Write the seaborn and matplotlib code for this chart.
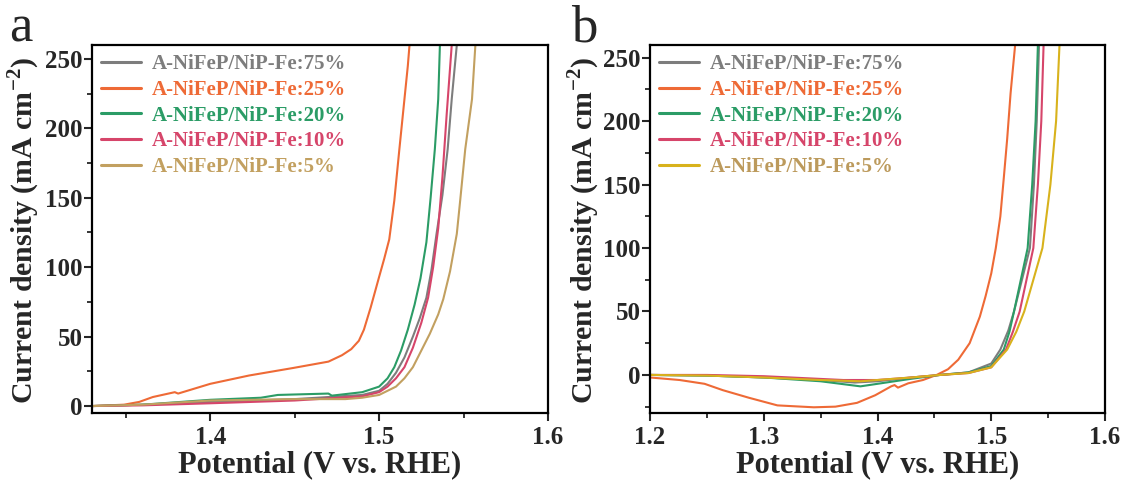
import numpy as np
import pandas as pd
import matplotlib
matplotlib.use("Agg")
import matplotlib.pyplot as plt
import seaborn as sns
from matplotlib.ticker import MultipleLocator

sns.set_theme(style="ticks")
plt.rcParams['font.family'] = ['Liberation Serif', 'DejaVu Serif']
plt.rcParams['mathtext.fontset'] = 'custom'
plt.rcParams['mathtext.rm'] = 'Liberation Serif:bold'
plt.rcParams['mathtext.bf'] = 'Liberation Serif:bold'

labels = ["A-NiFeP/NiP-Fe:75%", "A-NiFeP/NiP-Fe:25%", "A-NiFeP/NiP-Fe:20%",
          "A-NiFeP/NiP-Fe:10%", "A-NiFeP/NiP-Fe:5%"]
colors_a = ["#7d7d7d", "#ee6a36", "#2b9c66", "#d6456a", "#c2a060"]
colors_b = ["#7d7d7d", "#ee6a36", "#2b9c66", "#d6456a", "#d8b21c"]
text_b = ["#7d7d7d", "#ee6a36", "#2b9c66", "#d6456a", "#bc9a5c"]

# ---- panel a (V vs RHE, mA cm-2)
a75_v = [1.33, 1.36, 1.40, 1.45, 1.49, 1.50, 1.505, 1.51, 1.515, 1.52, 1.524, 1.528, 1.531, 1.534, 1.5375, 1.5406, 1.543, 1.546]
a75_j = [0.0, 1.0, 3.0, 5.0, 8.0, 11.0, 16.0, 24.0, 35.0, 50.0, 63.0, 78.0, 98.0, 124.0, 152.0, 185.0, 221.0, 260.0]
a25_v = [1.33, 1.349, 1.358, 1.366, 1.379, 1.381, 1.40, 1.423, 1.449, 1.47, 1.478, 1.4835, 1.488, 1.491, 1.495, 1.50, 1.503, 1.506, 1.509, 1.512, 1.515, 1.517, 1.518]
a25_j = [0.0, 1.0, 3.0, 6.5, 10.0, 9.0, 16.0, 22.0, 27.4, 32.0, 36.6, 41.0, 47.0, 55.0, 71.0, 93.0, 106.0, 120.0, 148.0, 185.0, 221.0, 245.0, 260.0]
a20_v = [1.33, 1.36, 1.40, 1.43, 1.44, 1.47, 1.472, 1.49, 1.50, 1.505, 1.509, 1.513, 1.517, 1.521, 1.5245, 1.528, 1.5305, 1.533, 1.535, 1.536]
a20_j = [0.0, 1.0, 4.5, 6.0, 8.0, 9.0, 7.5, 10.0, 14.0, 20.0, 28.0, 40.0, 55.0, 73.0, 92.0, 118.0, 150.0, 185.0, 221.0, 260.0]
a10_v = [1.33, 1.36, 1.40, 1.45, 1.49, 1.50, 1.505, 1.51, 1.515, 1.52, 1.525, 1.529, 1.532, 1.535, 1.5375, 1.540, 1.543]
a10_j = [0.0, 0.5, 2.0, 4.0, 7.0, 10.0, 14.0, 20.0, 28.0, 42.0, 60.0, 78.0, 100.0, 128.0, 165.0, 210.0, 260.0]
a5_v = [1.33, 1.36, 1.40, 1.45, 1.48, 1.49, 1.50, 1.51, 1.515, 1.52, 1.525, 1.53, 1.535, 1.538, 1.542, 1.546, 1.548, 1.551, 1.555, 1.557]
a5_j = [0.0, 1.0, 4.0, 5.0, 5.0, 6.0, 8.0, 14.0, 20.0, 28.0, 40.0, 52.0, 66.0, 77.0, 97.0, 124.0, 148.0, 185.0, 221.0, 260.0]

# ---- panel b
b75_v = [1.20, 1.25, 1.30, 1.35, 1.38, 1.40, 1.43, 1.455, 1.48, 1.50, 1.508, 1.515, 1.52, 1.527, 1.534, 1.5375, 1.540, 1.542]
b75_j = [0.0, -0.5, -2.0, -4.0, -6.0, -5.0, -2.0, 0.0, 2.0, 9.0, 20.0, 35.0, 50.0, 75.0, 100.0, 150.0, 200.0, 260.0]
b25_v = [1.20, 1.226, 1.248, 1.264, 1.287, 1.312, 1.344, 1.363, 1.382, 1.398, 1.412, 1.415, 1.418, 1.427, 1.44, 1.452, 1.462, 1.471, 1.481, 1.49, 1.495, 1.50, 1.504, 1.508, 1.511, 1.514, 1.517, 1.521]
b25_j = [-2.0, -4.0, -7.0, -12.0, -18.0, -24.0, -25.5, -25.0, -22.0, -16.0, -9.0, -8.0, -10.0, -6.6, -4.0, 0.0, 4.5, 12.0, 25.0, 46.0, 62.0, 80.0, 100.0, 125.0, 155.0, 186.0, 222.0, 260.0]
b20_v = [1.20, 1.25, 1.30, 1.35, 1.385, 1.40, 1.43, 1.455, 1.48, 1.50, 1.511, 1.516, 1.52, 1.526, 1.532, 1.536, 1.539, 1.541]
b20_j = [0.0, -0.5, -2.0, -5.0, -9.0, -7.0, -3.0, 0.0, 2.0, 7.0, 20.0, 34.0, 50.0, 75.0, 100.0, 150.0, 200.0, 260.0]
b10_v = [1.20, 1.25, 1.30, 1.37, 1.40, 1.43, 1.455, 1.48, 1.50, 1.513, 1.519, 1.525, 1.531, 1.537, 1.541, 1.544, 1.546]
b10_j = [0.0, 0.0, -1.0, -4.0, -4.0, -2.0, 0.0, 1.5, 6.0, 20.0, 34.0, 50.0, 75.0, 100.0, 150.0, 200.0, 260.0]
b5_v = [1.20, 1.25, 1.30, 1.35, 1.385, 1.40, 1.43, 1.455, 1.48, 1.50, 1.514, 1.522, 1.529, 1.537, 1.545, 1.552, 1.557, 1.560]
b5_j = [0.0, -0.5, -2.0, -4.0, -5.0, -4.0, -2.0, 0.0, 1.5, 6.0, 20.0, 34.0, 50.0, 75.0, 100.0, 150.0, 200.0, 260.0]

def make_df(vs, js):
    frames = []
    for lab, v, j in zip(labels, vs, js):
        frames.append(pd.DataFrame({"V": v, "J": j, "sample": lab}))
    return pd.concat(frames, ignore_index=True)

df_a = make_df([a75_v, a25_v, a20_v, a10_v, a5_v], [a75_j, a25_j, a20_j, a10_j, a5_j])
df_b = make_df([b75_v, b25_v, b20_v, b10_v, b5_v], [b75_j, b25_j, b20_j, b10_j, b5_j])

fig = plt.figure(figsize=(11.27, 4.86), dpi=100)
W, H = 1127, 486
TOP, BOT = 45, 413
ax_a = fig.add_axes([92 / W, 1 - BOT / H, (548 - 92) / W, (BOT - TOP) / H])
ax_b = fig.add_axes([650 / W, 1 - BOT / H, (1105 - 650) / W, (BOT - TOP) / H])

def style(ax, df, cols, tcols, xlim, ylim, letter, letter_x, ylab_x):
    sns.lineplot(data=df, x="V", y="J", hue="sample", hue_order=labels,
                 palette=dict(zip(labels, cols)), sort=False, estimator=None,
                 units="sample", lw=1.5, ax=ax, legend=True)
    ax.set_xlim(*xlim)
    ax.set_ylim(*ylim)
    ax.xaxis.set_major_locator(MultipleLocator(0.1))
    ax.xaxis.set_minor_locator(MultipleLocator(0.05))
    ax.yaxis.set_major_locator(MultipleLocator(50))
    ax.yaxis.set_minor_locator(MultipleLocator(25))
    ax.tick_params(which="major", direction="out", length=6, width=1.5, labelsize=18, pad=3)
    ax.tick_params(axis="y", which="major", pad=0.5)
    ax.tick_params(which="minor", direction="out", length=3.5, width=1.3)
    for lab in ax.get_xticklabels() + ax.get_yticklabels():
        lab.set_fontweight("bold")
    for s in ax.spines.values():
        s.set_visible(True)
        s.set_linewidth(1.6)
        s.set_color("black")
    ax.set_xlabel("Potential (V vs. RHE)", fontsize=22, fontweight="bold")
    ax.set_ylabel(r"Current density (mA cm$^{-2}$)", fontsize=21.5, fontweight="bold")
    ax.xaxis.label.set_va("center")
    ax.yaxis.label.set_va("center")
    ax.xaxis.set_label_coords(0.5, (BOT - 465) / (BOT - TOP))
    ax.yaxis.set_label_coords(ylab_x, 0.497)
    leg = ax.legend(loc="upper left", frameon=False, handlelength=1.9, handletextpad=0.5,
                    labelspacing=0.27, borderaxespad=0.0, borderpad=0.45,
                    prop={"weight": "bold", "size": 15})
    for t, c in zip(leg.get_texts(), tcols):
        t.set_color(c)
    for h in leg.get_lines():
        h.set_linewidth(2.2)
    fig.text(letter_x, 1 - 4 / H, letter, fontsize=38, va="top", ha="left")

style(ax_a, df_a, colors_a, colors_a, (1.33, 1.6), (-5, 260), "a", 9 / W, (24 - 92) / 456)
style(ax_b, df_b, colors_b, text_b, (1.2, 1.6), (-30, 260), "b", 571 / W, (584 - 650) / 455)

fig.savefig("out.png", dpi=100)
